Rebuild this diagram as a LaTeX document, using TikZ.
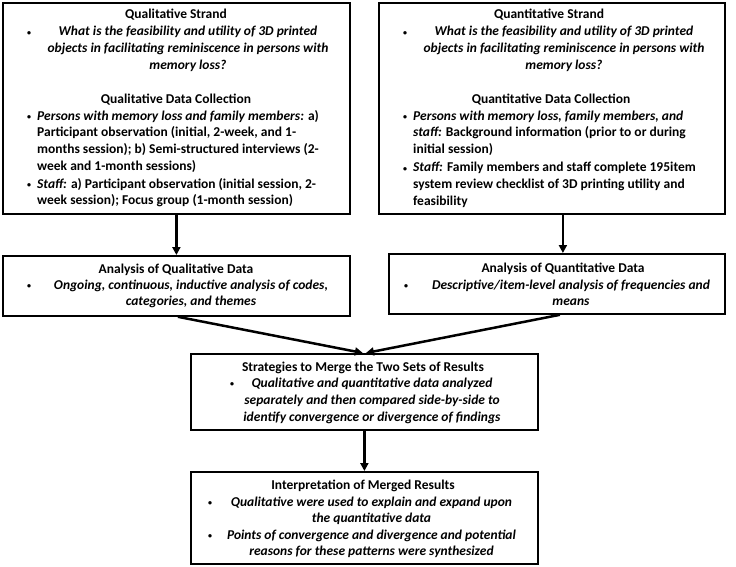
\documentclass[tikz,border=0pt]{standalone}
\usepackage{fontspec}
\setmainfont{Carlito}
\usetikzlibrary{arrows.meta,calc}
\newcommand{\smbul}{{\fontsize{8}{8}\selectfont\raisebox{0.8pt}{\textbullet}}}
\tikzset{
  box/.style={draw=black, line width=1.8pt, inner sep=0pt, anchor=north west},
  txt/.style={inner sep=0pt, anchor=north, font=\fontsize{13.5}{16.7}\selectfont\bfseries},
  txtc/.style={txt, align=center},
  txtl/.style={txt, align=left, anchor=north west},
  bul/.style={txt},
  arr/.style={line width=2.5pt, -{Triangle[length=8pt,width=8pt]}},
}
\begin{document}
\begin{tikzpicture}[x=1pt,y=-1pt]
\fill[white] (0,0) rectangle (736,566);
\useasboundingbox (0,0) rectangle (736,566);

% boxes
\node[box, minimum width=347pt, minimum height=211pt] (qlstrand) at (2,2) {};
\node[box, minimum width=346pt, minimum height=211pt] (qnstrand) at (378,2) {};
\node[box, minimum width=347pt, minimum height=60pt] (qlan) at (2,255) {};
\node[box, minimum width=336pt, minimum height=60pt] (qnan) at (388,253) {};
\node[box, minimum width=347pt, minimum height=76pt] (merge) at (190,353) {};
\node[box, minimum width=347pt, minimum height=92pt] (interp) at (190,471) {};

% Qualitative strand
\node[txtc] (t1) at (176,6.3) {\strut Qualitative Strand};
\node[bul] (b1a) at (29,24) {\strut\smbul};
\node[txtc] (q1) at (188,24) {\strut\textit{What is the feasibility and utility of 3D printed}\\\textit{objects in facilitating reminiscence in persons with}\\\textit{memory loss?}};
\node[txtc] (t1b) at (176,91.3) {\strut Qualitative Data Collection};
\node[bul] (b1b) at (29,108.3) {\strut\smbul};
\node[txtl] (c1a) at (37,108.3) {\strut\textit{Persons with memory loss and family members:} a)\\Participant observation (initial, 2-week, and 1-\\months session); b) Semi-structured interviews (2-\\week and 1-month sessions)};
\node[bul] (b1c) at (29,176.3) {\strut\smbul};
\node[txtl] (c1b) at (37,176.3) {\strut\textit{Staff:} a) Participant observation (initial session, 2-\\week session); Focus group (1-month session)};

% Quantitative strand
\node[txtc] (t2) at (549,6.3) {\strut Quantitative Strand};
\node[bul] (b2a) at (405,24) {\strut\smbul};
\node[txtc] (q2) at (564,24) {\strut\textit{What is the feasibility and utility of 3D printed}\\\textit{objects in facilitating reminiscence in persons with}\\\textit{memory loss?}};
\node[txtc] (t2b) at (551,91.3) {\strut Quantitative Data Collection};
\node[bul] (b2b) at (405,108.3) {\strut\smbul};
\node[txtl] (c2a) at (413,108.3) {\strut\textit{Persons with memory loss, family members, and}\\\textit{staff:} Background information (prior to or during\\initial session)};
\node[bul] (b2c) at (405,160) {\strut\smbul};
\node[txtl] (c2b) at (413,160) {\strut\textit{Staff:} Family members and staff complete 195item\\system review checklist of 3D printing utility and\\feasibility};

% Analysis of qualitative data
\node[txtc] (t3) at (176,261.3) {\strut Analysis of Qualitative Data};
\node[bul] (b3) at (29,277.3) {\strut\smbul};
\node[txtc] (c3) at (191,277.3) {\strut\textit{Ongoing, continuous, inductive analysis of codes,}\\\textit{categories, and themes}};

% Analysis of quantitative data
\node[txtc] (t4) at (563,260.3) {\strut Analysis of Quantitative Data};
\node[bul] (b4) at (406,277.3) {\strut\smbul};
\node[txtc] (c4) at (571,277.3) {\strut\textit{Descriptive/item-level analysis of frequencies and}\\\textit{means}};

% Merge
\node[txtc] (t5) at (363,359.3) {\strut Strategies to Merge the Two Sets of Results};
\node[bul] (b5) at (232,375.8) {\strut\smbul};
\node[txtc] (c5) at (372,375.8) {\strut\textit{Qualitative and quantitative data analyzed}\\\textit{separately and then compared side-by-side to}\\\textit{identify convergence or divergence of findings}};

% Interpretation
\node[txtc] (t6) at (363,477.3) {\strut Interpretation of Merged Results};
\node[bul] (b6a) at (210,494.3) {\strut\smbul};
\node[txtc] (c6a) at (371.5,494.3) {\strut\textit{Qualitative were used to explain and expand upon}\\\textit{the quantitative data}};
\node[bul] (b6b) at (210,527.3) {\strut\smbul};
\node[txtc] (c6b) at (371.5,527.3) {\strut\textit{Points of convergence and divergence and potential}\\\textit{reasons for these patterns were synthesized}};

% connectors
\coordinate (a2) at ($(qnstrand.south)+(11,0)$);
\draw[arr] (qlstrand.south) -- (qlan.north);
\draw[arr] (a2) -- (a2 |- qnan.north);
\draw[arr] ($(qlan.south)+(1.5,0)$) -- ($(merge.north)+(-1.5,0)$);
\draw[arr] ($(qnan.south)+(3,0)$) -- ($(merge.north)+(1.5,0)$);
\draw[arr] (merge.south) -- (interp.north);
\end{tikzpicture}
\end{document}
